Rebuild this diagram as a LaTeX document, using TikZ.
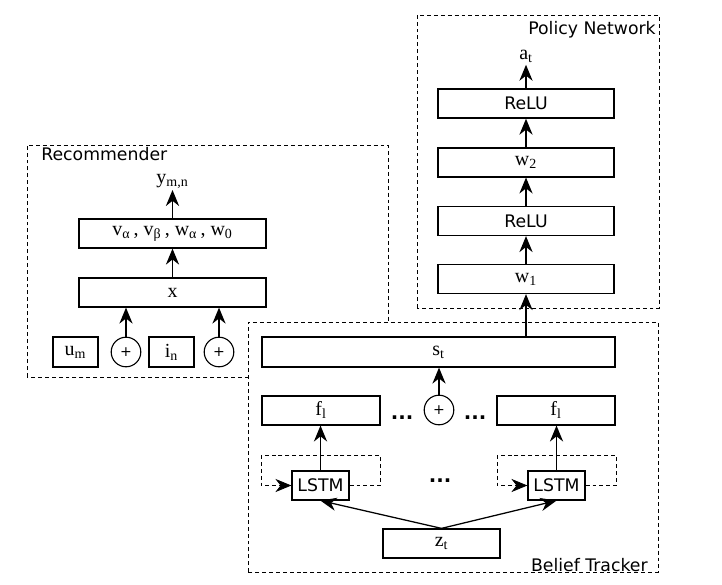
\documentclass[tikz,border=0pt]{standalone}
\usepackage{fontspec}
\setmainfont{Liberation Serif}
\setsansfont{DejaVu Sans}
\usetikzlibrary{arrows.meta,positioning}

\begin{document}
\begin{tikzpicture}[
  font=\fontsize{14.2}{16}\selectfont,
  layer/.style={draw, line width=0.9pt, minimum height=7.25mm, inner sep=0pt},
  sanslayer/.style={layer, font=\sffamily\fontsize{12.3}{14}\selectfont},
  oplus/.style={draw, circle, line width=0.8pt, minimum size=7.4mm, inner sep=0pt, font=\sffamily\fontsize{10}{10}\selectfont},
  frame/.style={draw, line width=0.6pt, dash pattern=on 2.8pt off 2.1pt},
  recur/.style={-{Stealth[length=4mm,width=3.3mm]}, line width=0.6pt, dash pattern=on 2.8pt off 2.1pt},
  arrow/.style={-{Stealth[length=4mm,width=3.3mm]}, line width=0.9pt},
  tag/.style={font=\sffamily\fontsize{12.3}{14}\selectfont, inner sep=0pt},
  dots/.style={font=\sffamily\bfseries\fontsize{14}{14}\selectfont, inner sep=0pt}
]
\useasboundingbox (0,0) rectangle (18.05,14.6);

\draw[frame] (0.675,5.175) rectangle (9.7,10.975);
\draw[frame, fill=white] (6.2,0.3) rectangle (16.45,6.55);
\draw[frame] (10.425,6.9) rectangle (16.475,14.225);

\node[tag, anchor=base west] (rectag) at (1.025,10.575) {Recommender};
\node[tag, anchor=base east] (poltag) at (16.4,13.725) {Policy Network};
\node[tag, anchor=base east] (beltag) at (16.2,0.325) {Belief Tracker};

\node[layer, minimum width=46.75mm] (theta) at (4.3125,8.7625)
  {v\textsubscript{α}\,, v\textsubscript{β}\,, w\textsubscript{α}\,, w\textsubscript{0}};
\node[layer, minimum width=46.75mm] (feat) at (4.3125,7.2875) {x};
\node[anchor=south, inner sep=0.5pt] (ymn) at (4.3125,9.85) {y\textsubscript{m,n}};
\node[layer, minimum width=11.25mm, minimum height=7.5mm] (um) at (1.8875,5.8) {u\textsubscript{m}};
\node[oplus] (addA) at (3.15,5.8) {+};
\node[layer, minimum width=11.25mm, minimum height=7.5mm] (in) at (4.2875,5.8) {i\textsubscript{n}};
\node[oplus] (addB) at (5.475,5.8) {+};

\draw[arrow] (addA.north) -- (addA |- feat.south);
\draw[arrow] (addB.north) -- (addB |- feat.south);
\draw[arrow] (feat.north) -- (theta.south);
\draw[arrow] (theta.north) -- (ymn.south);

\node[sanslayer, minimum width=44mm] (reluB) at (13.15,12.01) {ReLU};
\node[layer, minimum width=44mm] (wB) at (13.15,10.54) {w\textsubscript{2}};
\node[sanslayer, minimum width=44mm] (reluA) at (13.15,9.075) {ReLU};
\node[layer, minimum width=44mm] (wA) at (13.15,7.625) {w\textsubscript{1}};
\node[anchor=south, inner sep=1pt] (act) at (13.15,12.98) {a\textsubscript{t}};

\draw[arrow] (wA.north) -- (reluA.south);
\draw[arrow] (reluA.north) -- (wB.south);
\draw[arrow] (wB.north) -- (reluB.south);
\draw[arrow] (reluB.north) -- (act.south);

\node[layer, minimum width=88.25mm, minimum height=7.5mm] (st) at (10.9625,5.8) {s\textsubscript{t}};
\node[oplus] (addC) at (10.975,4.35) {+};
\node[layer, minimum width=29.5mm] (flA) at (8.025,4.34) {f\textsubscript{l}};
\node[layer, minimum width=29.5mm] (flB) at (13.9,4.34) {f\textsubscript{l}};
\node[dots] (dotsA) at (10.05,4.15) {...};
\node[dots] (dotsB) at (11.875,4.15) {...};
\node[sanslayer, minimum width=14.25mm] (lstmA) at (8.0125,2.4625) {LSTM};
\node[sanslayer, minimum width=14.25mm] (lstmB) at (13.9125,2.4625) {LSTM};
\node[dots] (dotsC) at (11.0,2.575) {...};
\node[layer, minimum width=29.25mm] (zt) at (11.0375,1.0125) {z\textsubscript{t}};

\draw[arrow] (addC.north) -- (addC |- st.south);
\draw[arrow] (lstmA.north) -- (lstmA |- flA.south);
\draw[arrow] (lstmB.north) -- (lstmB |- flB.south);
\draw[arrow] (zt.north) -- (lstmA.south);
\draw[arrow] (zt.north) -- (lstmB.south);
\draw[recur] (lstmA.east) -| ++(0.77,0.74) -| ([xshift=-7.6mm]lstmA.west) -- (lstmA.west);
\draw[recur] (lstmB.east) -| ++(0.77,0.74) -| ([xshift=-7.6mm]lstmB.west) -- (lstmB.west);
\draw[arrow] (wA.south |- st.north) -- (wA.south);

\end{tikzpicture}
\end{document}
